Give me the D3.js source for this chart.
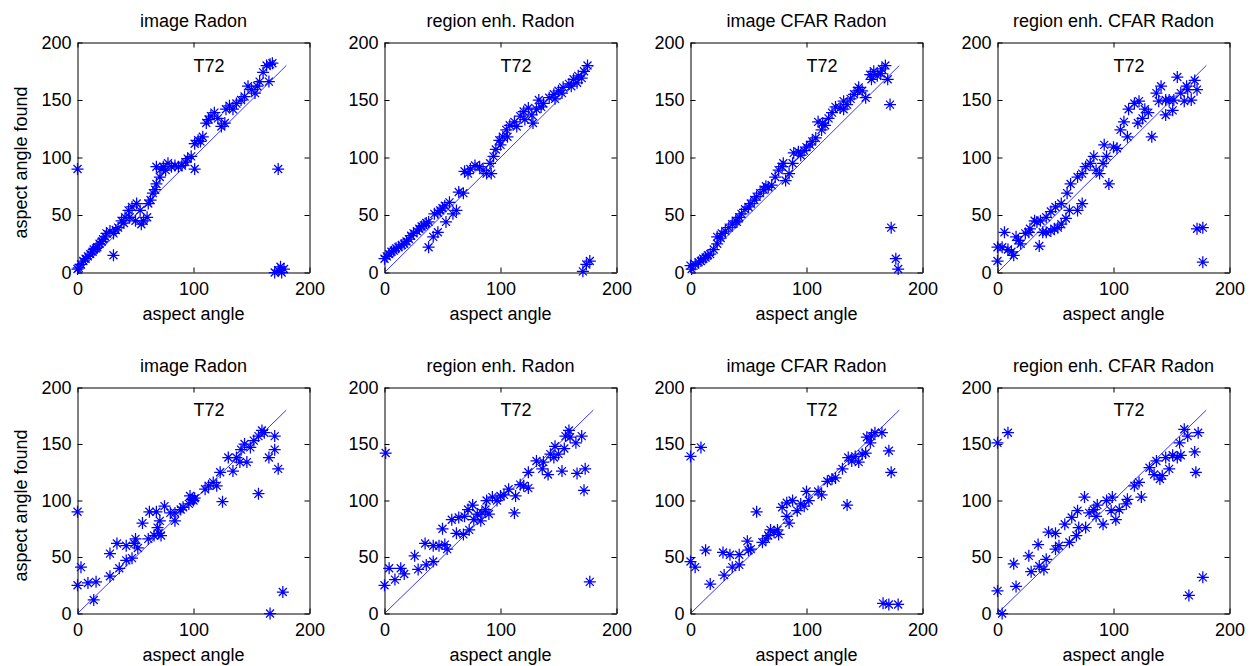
<!DOCTYPE html>
<head>
  <meta charset="utf-8">
  <script src="https://d3js.org/d3.v7.min.js"></script>
  <style>
    body { margin:0; background:#fff; }
    text { font-family: "Liberation Sans", Arial, sans-serif; }
  </style>
</head>
<body>
<script>
// titles, ticks and the T72 label shared by all subplots
var titles = ["image Radon", "region enh. Radon", "image CFAR Radon", "region enh. CFAR Radon"];
var xTicks = [0, 100, 200];
var yTicks = [0, 50, 100, 150, 200];
var refLine = [[0, 0], [180, 180]];
var tag = "T72";

// [aspect angle, aspect angle found]
var imgRadonA = [[0,90],[101,90],[173,90],[0,3],[1,4],[3,7],[5,10],[7,12],[9,14],[11,16],[13,18],[14,20],[16,21],[17,22],[19,25],[21,27],[22,29],[24,31],[25,34],[28,36],[31,15],[31,34],[33,37],[35,39],[38,45],[40,43],[41,48],[44,54],[45,48],[47,57],[50,45],[51,60],[54,54],[55,42],[57,45],[60,48],[61,60],[63,63],[65,69],[67,72],[68,77],[71,83],[68,92],[72,90],[74,92],[76,89],[78,95],[81,92],[84,93],[87,92],[90,93],[93,96],[95,99],[98,101],[101,112],[104,115],[106,114],[108,118],[111,130],[113,133],[115,136],[118,139],[121,134],[124,127],[127,130],[128,142],[131,145],[134,142],[137,147],[141,150],[144,153],[147,162],[150,159],[153,156],[155,162],[157,166],[160,174],[163,180],[166,181],[168,182],[165,166],[170,0],[173,2],[175,5],[176,0],[178,3]];
var regRadonA = [[0,12],[2,14],[4,16],[6,18],[8,19],[10,21],[12,22],[15,24],[17,25],[19,27],[21,29],[23,32],[25,34],[28,36],[30,38],[32,40],[34,41],[36,43],[38,44],[38,22],[42,31],[46,35],[43,51],[46,52],[48,54],[50,56],[52,58],[56,61],[53,44],[59,51],[62,54],[64,70],[68,69],[69,88],[72,86],[74,90],[78,93],[82,92],[85,89],[88,86],[92,86],[91,95],[94,101],[96,107],[99,115],[100,111],[102,118],[105,124],[106,118],[108,128],[112,131],[114,127],[117,136],[120,140],[121,133],[124,143],[127,137],[128,130],[131,142],[133,150],[135,144],[137,147],[142,152],[146,155],[147,151],[150,158],[153,156],[154,161],[159,164],[161,162],[163,168],[166,165],[167,171],[170,169],[172,175],[175,180],[171,1],[174,7],[177,10]];
var imgCfarA = [[0,6],[1,3],[4,7],[7,9],[9,10],[11,12],[13,13],[15,15],[17,16],[20,20],[23,25],[23,31],[26,30],[27,34],[30,36],[33,39],[36,42],[39,45],[40,44],[42,48],[44,51],[47,55],[50,57],[52,60],[55,63],[57,66],[60,69],[63,72],[65,75],[67,74],[70,76],[73,83],[76,89],[79,92],[80,95],[82,80],[85,86],[88,95],[89,104],[93,105],[95,102],[98,106],[100,109],[103,111],[105,114],[108,117],[110,131],[113,124],[114,130],[116,128],[119,134],[122,139],[125,144],[129,143],[132,142],[132,149],[135,146],[138,151],[141,155],[144,158],[145,161],[148,158],[151,152],[155,172],[156,168],[158,175],[161,171],[164,173],[165,177],[168,180],[170,168],[172,146],[173,39],[177,12],[179,3]];
var regCfarA = [[0,10],[0,22],[4,22],[6,35],[9,20],[12,18],[14,15],[16,31],[18,28],[20,25],[24,34],[27,35],[28,38],[32,45],[34,44],[36,23],[37,45],[39,35],[42,35],[42,48],[46,36],[46,53],[49,38],[50,57],[52,39],[55,42],[55,60],[59,47],[60,69],[62,54],[63,77],[69,54],[69,83],[73,60],[73,86],[76,92],[80,95],[83,101],[85,89],[88,86],[91,95],[92,111],[94,101],[96,77],[100,109],[103,108],[106,124],[109,131],[112,118],[113,142],[118,147],[121,130],[122,149],[125,134],[127,142],[130,139],[133,118],[137,156],[139,149],[141,162],[145,137],[145,150],[148,150],[151,141],[152,150],[155,170],[158,156],[161,149],[163,162],[164,159],[167,150],[170,167],[172,159],[172,38],[177,39],[177,9]];
var imgRadonB = [[0,90],[3,41],[0,25],[9,27],[16,28],[14,12],[28,33],[36,40],[28,53],[34,62],[42,60],[49,62],[50,66],[52,58],[42,47],[47,49],[56,80],[62,90],[68,90],[61,66],[66,69],[70,71],[72,69],[69,76],[75,95],[71,82],[80,89],[84,89],[84,82],[89,92],[91,94],[96,97],[99,101],[101,102],[100,100],[97,104],[110,110],[113,113],[117,116],[120,113],[123,125],[125,99],[130,138],[134,126],[137,138],[140,134],[141,145],[144,150],[146,134],[149,147],[152,153],[156,157],[159,162],[161,160],[156,106],[165,138],[170,157],[170,145],[173,128],[177,19],[166,0]];
var regRadonB = [[1,142],[0,25],[4,40],[9,30],[14,40],[17,35],[26,51],[29,39],[35,62],[36,43],[42,46],[42,60],[47,60],[50,75],[52,61],[54,57],[58,83],[62,71],[64,85],[68,70],[69,86],[72,92],[73,74],[76,96],[77,83],[80,88],[83,82],[84,89],[87,92],[88,100],[90,88],[93,103],[97,100],[100,104],[103,105],[107,110],[112,89],[113,104],[117,114],[120,113],[124,111],[124,125],[131,135],[136,128],[137,134],[141,123],[143,141],[146,138],[147,148],[150,141],[153,126],[155,146],[156,157],[159,162],[160,156],[165,151],[170,157],[166,124],[173,128],[172,109],[177,28]];
var imgCfarB = [[0,139],[9,147],[0,46],[4,41],[13,56],[17,26],[28,54],[29,34],[34,52],[36,41],[42,52],[42,43],[49,64],[50,56],[52,57],[57,90],[62,63],[65,66],[67,69],[69,74],[72,72],[75,74],[76,70],[79,94],[83,86],[85,80],[83,98],[88,100],[92,91],[95,97],[98,95],[100,108],[102,100],[110,108],[113,105],[118,117],[122,119],[125,120],[131,128],[135,96],[136,138],[139,135],[142,139],[145,134],[148,141],[151,142],[152,156],[155,151],[156,157],[159,160],[165,160],[171,144],[173,125],[166,9],[171,8],[179,8]];
var regCfarB = [[0,151],[9,160],[0,20],[4,0],[14,44],[16,24],[27,51],[29,37],[35,61],[36,42],[40,39],[42,48],[44,72],[50,71],[50,57],[53,60],[58,79],[62,63],[64,85],[68,69],[69,91],[70,76],[75,103],[76,76],[79,89],[83,92],[85,86],[86,96],[91,79],[94,100],[98,91],[99,103],[102,83],[105,92],[111,97],[112,101],[118,113],[122,116],[124,103],[131,129],[135,123],[137,135],[140,119],[142,122],[145,138],[148,128],[151,140],[155,138],[157,151],[158,140],[161,163],[164,157],[173,160],[170,143],[171,125],[165,16],[177,32]];

var panels = [imgRadonA, regRadonA, imgCfarA, regCfarA, imgRadonB, regRadonB, imgCfarB, regCfarB];

var rows = [{top: 42, bottom: 272}, {top: 387, bottom: 613}];
var colLeft = 77, colStep = 306.6, w = 232;
var fontSize = "18px";
var blue = "#0000ff";

var svg = d3.select("body").append("svg")
  .attr("width", 1254)
  .attr("height", 666);

// matlab style '*' marker
var star = "M-6,0H6M0,-6V6M-4,-4L4,4M-4,4L4,-4";

panels.forEach(function(data, i) {
  var col = i % 4, row = Math.floor(i / 4);
  var x0 = Math.round(colLeft + col * colStep), y0 = rows[row].top;
  var h = rows[row].bottom - rows[row].top;

  var x = d3.scaleLinear().domain([0, 200]).range([0, w]);
  var y = d3.scaleLinear().domain([0, 200]).range([h, 0]);

  var g = svg.append("g")
    .attr("transform", "translate(" + (x0 + 0.5) + "," + (y0 + 0.5) + ")");

  // box + ticks on all four sides
  g.append("g").attr("transform", "translate(0," + h + ")")
    .call(d3.axisBottom(x).tickValues(xTicks).tickSize(-5).tickSizeOuter(0).tickPadding(10));
  g.append("g")
    .call(d3.axisTop(x).tickValues(xTicks).tickSize(-5).tickSizeOuter(0).tickFormat(""));
  g.append("g")
    .call(d3.axisLeft(y).tickValues(yTicks).tickSize(-5).tickSizeOuter(0).tickPadding(6));
  g.append("g").attr("transform", "translate(" + w + ",0)")
    .call(d3.axisRight(y).tickValues(yTicks).tickSize(-5).tickSizeOuter(0).tickFormat(""));

  g.selectAll(".tick text")
    .attr("font-family", "'Liberation Sans', Arial, sans-serif")
    .attr("font-size", fontSize)
    .attr("fill", "#000");
  g.selectAll(".domain, .tick line").attr("stroke", "#000");

  // y = x reference line
  g.append("path")
    .datum(refLine)
    .attr("d", d3.line().x(function(d) { return x(d[0]); }).y(function(d) { return y(d[1]); }))
    .attr("stroke", blue)
    .attr("stroke-width", 0.8)
    .attr("fill", "none");

  g.selectAll(".pt")
    .data(data)
    .enter().append("path")
    .attr("class", "pt")
    .attr("d", star)
    .attr("transform", function(d) { return "translate(" + x(d[0]) + "," + y(d[1]) + ")"; })
    .attr("stroke", blue)
    .attr("stroke-width", 1.25)
    .attr("fill", "none");

  g.append("text")
    .attr("x", x(100))
    .attr("y", y(180))
    .attr("dy", "0.35em")
    .attr("font-size", fontSize)
    .text(tag);

  g.append("text")
    .attr("x", w / 2)
    .attr("y", -16)
    .attr("text-anchor", "middle")
    .attr("font-size", fontSize)
    .text(titles[col]);

  g.append("text")
    .attr("x", w / 2)
    .attr("y", h + 47)
    .attr("text-anchor", "middle")
    .attr("font-size", fontSize)
    .text("aspect angle");

  if (col == 0) {
    g.append("text")
      .attr("transform", "translate(" + (26 - x0) + "," + (h / 2 + 5) + ") rotate(-90)")
      .attr("text-anchor", "middle")
      .attr("font-size", fontSize)
      .text("aspect angle found");
  }
});
</script>
</body>
